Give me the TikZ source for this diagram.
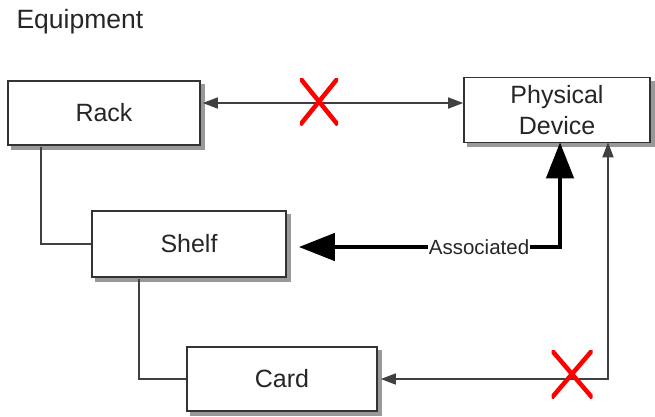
\documentclass[tikz,border=0pt]{standalone}
\usepackage{fontspec}
\setmainfont{Liberation Sans}
\usetikzlibrary{arrows.meta,backgrounds}
\begin{document}
\begin{tikzpicture}[x=1pt,y=-1pt,
  box/.style={draw=black!80,line width=1.6pt,fill=white,rectangle,
    text=black!85,font=\fontsize{25}{31}\selectfont,align=center,inner sep=0pt},
  shadowbox/.style={fill=black!40},
  conn/.style={draw=black!75,line width=1.6pt},
  smallboth/.style={{Triangle[length=15pt,width=11pt]}-{Triangle[length=15pt,width=11pt]}},
  assoc/.style={draw=black,line width=4.5pt,{Triangle[length=36pt,width=27pt]}-{Triangle[length=36pt,width=27pt]}},
  xnode/.style={inner sep=0pt,path picture={\draw[red,line width=4.5pt]
     (path picture bounding box.north west) -- (path picture bounding box.south east)
     (path picture bounding box.north east) -- (path picture bounding box.south west);}}
]
\useasboundingbox (0,0) rectangle (655,416);
\node[anchor=west,text=black!85,font=\fontsize{26.5}{30}\selectfont] (title) at (13,22) {Equipment};
\node[box,minimum width=192pt,minimum height=64pt] (rack) at (104,113) {Rack};
\node[box,minimum width=186pt,minimum height=65pt] (pd) at (557,110) {Physical\\Device};
\node[box,minimum width=194pt,minimum height=66pt] (shelf) at (189,244) {Shelf};
\node[box,minimum width=190pt,minimum height=64pt] (card) at (282,379) {Card};
\begin{scope}[on background layer]
  \foreach \n in {rack,pd,shelf,card}
    \fill[shadowbox] ([shift={(4pt,-4pt)}]\n.south west) rectangle ([shift={(4pt,-4pt)}]\n.north east);
\end{scope}

\draw[conn] ([xshift=34pt,yshift=-1pt]rack.south west) |- (shelf.west);
\draw[conn] ([xshift=48pt,yshift=-1pt]shelf.south west) |- (card.west);
\draw[conn,smallboth] ([yshift=10pt,xshift=2pt]rack.east) -- ([yshift=10pt]rack.east -| pd.west);
\draw[conn,smallboth] ([xshift=3pt]card.east) -| ([xshift=51pt,yshift=1pt]pd.south);
\draw[assoc] ([xshift=3pt,yshift=1pt]pd.south) |- ([xshift=12pt,yshift=-3pt]shelf.east)
   node[pos=0.655,fill=white,inner sep=1pt,font=\fontsize{20.5}{24}\selectfont,text=black!85] (lab) {Associated};

\node[xnode,minimum width=38pt,minimum height=47pt] (x1) at (319,101.5) {};
\node[xnode,minimum width=41pt,minimum height=48pt] (x2) at (572,374) {};
\end{tikzpicture}
\end{document}
